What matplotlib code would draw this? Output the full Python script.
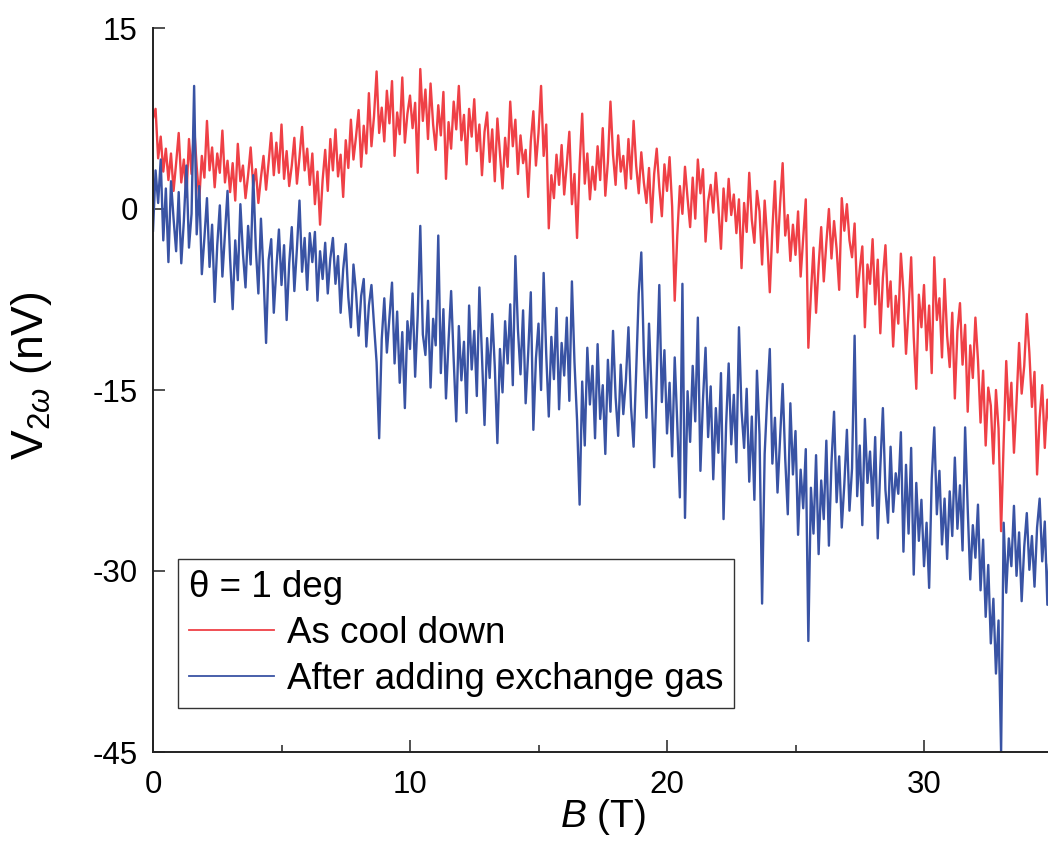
import numpy as np
import matplotlib
matplotlib.use("Agg")
import matplotlib.pyplot as plt
from matplotlib.ticker import MultipleLocator

plt.rcParams["font.family"] = ["Liberation Sans", "DejaVu Sans"]
plt.rcParams["mathtext.fontset"] = "custom"
plt.rcParams["mathtext.rm"] = "Liberation Sans"
plt.rcParams["mathtext.it"] = "Liberation Sans:italic"
plt.rcParams["mathtext.bf"] = "Liberation Sans:bold"
plt.rcParams["axes.unicode_minus"] = False

# field axis: one reading every 0.1 T from 0 to 35 T
b_field = np.round(np.arange(351) * 0.1, 1)

# V_2w (nV), as cool down
v_cool = [
    7.5, 8.3, 4.2, 6.0, 3.1, 5.0, 2.4, 4.6, 1.5, 3.8,
    6.3, 2.2, 4.1, 1.0, 5.8, 2.9, 6.9, 3.5, 0.8, 4.4,
    2.6, 7.3, 3.2, 5.1, 1.8, 4.6, 3.0, 6.5, 2.2, 4.0,
    1.4, 3.8, 0.7, 5.4, 2.3, 3.6, 0.9, 2.8, 5.1, 1.9,
    3.3, 0.5, 2.6, 4.4, 1.6, 3.9, 6.3, 2.8, 5.5, 3.0,
    7.0, 2.5, 4.8, 1.9, 3.6, 5.9, 2.1, 4.3, 6.8, 3.2,
    5.0, 2.0, 4.6, 0.4, 3.1, -1.3, 2.4, 4.9, 1.5, 5.8,
    3.2, 6.6, 2.7, 4.5, 1.0, 5.7, 3.4, 7.4, 4.1, 6.0,
    8.2, 3.5, 6.9, 4.6, 9.6, 5.2, 7.7, 11.4, 6.3, 8.4,
    5.6, 9.8, 7.1, 10.6, 4.4, 8.0, 6.2, 10.9, 5.5, 7.9,
    9.4, 6.7, 8.8, 3.0, 11.6, 7.3, 9.9, 5.8, 10.4, 7.0,
    4.9, 8.6, 6.1, 9.7, 2.5, 7.2, 5.0, 8.9, 6.6, 10.2,
    5.7, 7.8, 3.7, 8.3, 6.0, 9.1, 4.8, 7.0, 2.8, 6.4,
    8.0, 3.9, 6.6, 2.3, 7.5, 4.6, 1.7, 5.9, 3.5, 8.9,
    5.2, 7.4, 2.9, 6.1, 3.8, 4.9, 1.0, 5.6, 8.1, 3.6,
    6.3, 10.2, 4.4, 7.0, -1.6, 2.8, 0.9, 4.5, 2.0, 5.3,
    1.2, 3.7, 6.4, 0.4, 2.9, -2.4, 3.6, 7.9, 2.1, 4.6,
    0.8, 3.5, 1.6, 5.2, 2.4, 6.7, 1.1, 3.9, 8.9, 4.5,
    2.0, 6.1, 3.1, 4.4, 1.7, 5.8, 2.5, 7.3, 3.6, 1.3,
    4.7, 2.2, 0.5, 3.4, -1.1, 2.9, 5.0, 1.8, -0.6, 3.7,
    1.5, 4.3, 0.2, -7.6, -2.2, 1.9, -0.4, 3.5, 0.9, -1.5,
    2.6, -0.8, 4.1, 1.3, 3.3, -2.7, 0.6, 2.0, -0.3, 3.0,
    0.1, -3.3, 1.7, -1.0, 2.5, -0.5, 1.2, -2.0, 0.8, -4.9,
    0.5, -1.9, 3.0, -0.9, -2.8, 1.5, -0.2, -4.6, 0.7, -2.5,
    -6.9, -1.7, 2.3, -3.6, 0.4, 3.8, -2.2, -0.5, -4.3, -1.3,
    -3.8, -0.2, -5.6, -2.4, 0.8, -11.5, -7.0, -3.2, -8.6, -4.7,
    -1.5, -6.0, -2.8, 0.0, -4.1, -1.0, -3.3, -6.7, 0.9, -1.8,
    0.4, -2.6, -4.0, -1.2, -7.3, -5.0, -3.1, -9.8, -4.6, -6.2,
    -2.5, -7.9, -4.2, -10.3, -5.7, -3.0, -8.1, -6.0, -11.4, -7.2,
    -9.5, -3.7, -6.9, -12.0, -8.3, -4.0, -10.6, -14.9, -7.1, -9.8,
    -6.3, -11.7, -8.0, -13.6, -4.0, -9.2, -7.4, -12.3, -5.8, -10.5,
    -13.1, -8.6, -15.7, -10.1, -7.8, -12.9, -9.6, -16.8, -11.3, -14.0,
    -9.0, -12.5, -17.7, -13.4, -19.6, -14.8, -16.3, -21.1, -15.0, -18.2,
    -26.7, -19.3, -12.6, -17.5, -14.4, -20.2, -16.0, -11.1, -15.3, -13.0,
    -8.7, -11.9, -16.4, -13.5, -22.0, -17.3, -14.6, -19.8, -15.8, -18.5, -14.2,
]

# V_2w (nV), after adding exchange gas
v_gas = [
    -1.8, 3.2, 0.5, 4.1, -2.6, 1.7, -4.4, 2.3, -0.8, -3.5,
    1.4, -4.5, -1.0, 3.6, -3.2, -0.4, 10.2, -2.1, 1.9, -5.4,
    -2.4, 0.9, -4.8, -1.3, -7.7, -3.0, 0.3, -5.6, -2.0, 1.5,
    -4.1, -8.3, -2.6, -5.9, 0.4, -3.7, -6.5, -1.4, -4.6, 2.8,
    -3.2, -7.0, -0.8, -5.4, -11.1, -4.2, -2.5, -8.6, -4.9, -1.7,
    -6.3, -3.0, -9.2, -4.5, -1.5, -6.8, -3.3, 0.7, -5.2, -2.4,
    -6.7, -2.0, -4.4, -1.9, -7.6, -3.5, -5.8, -2.8, -7.0, -4.1,
    -2.4, -6.2, -3.9, -8.6, -5.0, -2.9, -7.3, -9.8, -4.6, -6.9,
    -10.5, -7.2, -5.8, -11.4, -8.0, -6.3, -9.6, -12.7, -19.0, -10.8,
    -7.4, -11.9, -9.0, -6.1, -12.8, -8.5, -14.4, -10.2, -16.5, -9.3,
    -11.6, -7.0, -13.9, -8.8, -1.4, -10.4, -12.1, -7.6, -14.8, -9.1,
    -11.3, -2.2, -13.6, -8.3, -15.7, -10.9, -6.8, -12.5, -17.6, -9.7,
    -14.2, -11.0, -16.9, -8.0, -13.3, -10.1, -15.5, -6.5, -12.2, -17.9,
    -10.7, -14.0, -8.7, -13.1, -19.4, -11.6, -15.2, -9.3, -12.8, -7.9,
    -14.6, -3.9, -10.0, -13.7, -8.4, -16.1, -11.9, -6.9, -18.3, -12.4,
    -9.5, -15.0, -5.3, -12.0, -17.2, -10.6, -14.1, -8.2, -16.6, -11.1,
    -13.8, -9.0, -15.9, -6.0, -12.7, -17.5, -24.5, -14.3, -19.6, -11.5,
    -16.2, -13.0, -19.0, -11.2, -17.4, -14.6, -20.3, -12.5, -16.8, -10.1,
    -15.6, -18.8, -12.9, -17.0, -14.2, -9.8, -16.4, -19.7, -13.5, -7.0,
    -3.6, -12.1, -17.3, -9.5, -15.2, -21.4, -13.8, -6.3, -16.0, -11.7,
    -18.6, -14.4, -20.5, -12.3, -17.8, -23.9, -6.2, -25.6, -15.1, -19.3,
    -13.0, -17.6, -9.0, -21.7, -15.8, -11.5, -18.9, -14.7, -22.4, -16.5,
    -20.2, -13.6, -25.7, -17.9, -12.8, -19.5, -15.4, -21.0, -9.8, -16.7,
    -19.8, -14.9, -22.6, -17.2, -24.1, -13.4, -18.7, -32.7, -20.3, -15.6,
    -11.6, -21.1, -17.3, -23.5, -19.0, -14.5, -20.7, -25.3, -16.1, -22.0,
    -18.4, -27.0, -21.6, -24.8, -19.9, -35.8, -23.1, -26.9, -20.4, -28.6,
    -22.5, -25.7, -19.2, -27.9, -21.0, -16.8, -24.3, -20.5, -26.4, -22.8,
    -18.3, -25.0, -21.5, -10.5, -23.8, -19.6, -26.2, -17.4, -22.7, -20.1,
    -24.6, -18.9, -27.3, -21.4, -16.5, -23.3, -26.0, -19.7, -25.1, -21.9,
    -23.6, -18.5, -28.4, -21.2, -26.9, -19.8, -30.3, -22.7, -27.5, -24.1,
    -29.6, -26.0, -31.4, -22.4, -18.1, -25.3, -21.7, -27.8, -24.0, -29.0,
    -23.4, -27.1, -20.6, -26.5, -22.9, -28.3, -18.1, -24.8, -30.7, -26.2,
    -28.9, -24.5, -31.6, -27.4, -33.8, -29.5, -36.0, -32.3, -38.5, -34.1,
    -45.0, -26.0, -31.8, -27.3, -29.6, -24.6, -30.4, -26.8, -32.5, -28.0,
    -25.2, -29.9, -27.1, -31.3, -26.4, -24.0, -29.2, -25.9, -32.8, -27.6, -26.2,
]

labels = ["As cool down", "After adding exchange gas"]
legend_title = "θ = 1 deg"

fig = plt.figure(figsize=(10.48, 8.61), dpi=100)
ax = fig.add_axes([153 / 1048, 109 / 861, 899.5 / 1048, 724 / 861])

ax.plot(b_field, v_cool, color="#EF4046", lw=1.7, label=labels[0])
ax.plot(b_field, v_gas, color="#3953A4", lw=1.7, label=labels[1])

ax.set_xlim(0, 35)
ax.set_ylim(-45, 15)
ax.set_xticks([0, 10, 20, 30])
ax.xaxis.set_minor_locator(MultipleLocator(5))
ax.set_yticks([-45, -30, -15, 0, 15])

ax.spines["top"].set_visible(False)
ax.spines["right"].set_visible(False)
for side in ("left", "bottom"):
    ax.spines[side].set_linewidth(1.4)
    ax.spines[side].set_color("#222222")

ax.tick_params(which="major", direction="in", length=8.5, width=1.1,
               labelsize=22.5, color="#222222")
ax.tick_params(which="minor", direction="in", length=5, width=1.1, color="#222222")
ax.tick_params(axis="x", which="major", pad=13)
ax.tick_params(axis="y", which="major", pad=11)

ax.set_xlabel(r"$B$ (T)", fontsize=28)
ax.set_ylabel(r"V$_{2\omega}$ (nV)", fontsize=32)
ax.xaxis.set_label_coords(0.5, -0.062)
ax.yaxis.set_label_coords(-0.11, 0.52)

leg = ax.legend(loc="lower left", bbox_to_anchor=(0.0278, 0.0608),
                borderaxespad=0, title=legend_title, alignment="left",
                fontsize=26.5, title_fontsize=26.5, frameon=True, fancybox=False,
                edgecolor="#333333", framealpha=1, handlelength=2.3,
                handletextpad=0.35, labelspacing=0.3, borderpad=0.3)
leg.get_frame().set_linewidth(1.0)
for line in leg.get_lines():
    line.set_linewidth(1.3)

fig.savefig("out.png", dpi=100)
